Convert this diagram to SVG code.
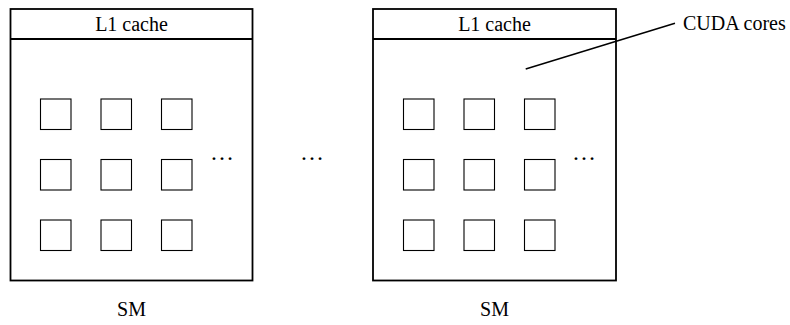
<svg xmlns="http://www.w3.org/2000/svg" width="790" height="325" viewBox="0 0 790 325">
<style>
.box{fill:#fff;stroke:#000;stroke-width:1.8}
.core{fill:#fff;stroke:#000;stroke-width:1.1}
.conn{stroke:#000;stroke-width:1.5;fill:none}
</style>
<g id="sm1">
<rect class="box" x="10.5" y="9" width="242" height="271.5"/>
<line class="box" x1="10.5" y1="39" x2="252.5" y2="39"/>
<text font-family="'Liberation Serif', serif" font-size="20" text-anchor="middle" x="131.5" y="31">L1 cache</text>
<rect class="core" x="40.5" y="99" width="30.5" height="30.5"/>
<rect class="core" x="101" y="99" width="30.5" height="30.5"/>
<rect class="core" x="161.5" y="99" width="30.5" height="30.5"/>
<rect class="core" x="40.5" y="159.5" width="30.5" height="30.5"/>
<rect class="core" x="101" y="159.5" width="30.5" height="30.5"/>
<rect class="core" x="161.5" y="159.5" width="30.5" height="30.5"/>
<rect class="core" x="40.5" y="220" width="30.5" height="30.5"/>
<rect class="core" x="101" y="220" width="30.5" height="30.5"/>
<rect class="core" x="161.5" y="220" width="30.5" height="30.5"/>
<text font-family="'Liberation Serif', serif" font-size="24" text-anchor="middle" x="222" y="160">…</text>
<text font-family="'Liberation Serif', serif" font-size="20" text-anchor="middle" x="131.5" y="316">SM</text>
</g>
<g id="gap">
<text font-family="'Liberation Serif', serif" font-size="24" text-anchor="middle" x="312" y="160">…</text>
</g>
<g id="sm2">
<rect class="box" x="373" y="9" width="243" height="271.5"/>
<line class="box" x1="373" y1="39" x2="616" y2="39"/>
<text font-family="'Liberation Serif', serif" font-size="20" text-anchor="middle" x="494.5" y="31">L1 cache</text>
<rect class="core" x="403.5" y="99" width="30.5" height="30.5"/>
<rect class="core" x="464" y="99" width="30.5" height="30.5"/>
<rect class="core" x="524.5" y="99" width="30.5" height="30.5"/>
<rect class="core" x="403.5" y="159.5" width="30.5" height="30.5"/>
<rect class="core" x="464" y="159.5" width="30.5" height="30.5"/>
<rect class="core" x="524.5" y="159.5" width="30.5" height="30.5"/>
<rect class="core" x="403.5" y="220" width="30.5" height="30.5"/>
<rect class="core" x="464" y="220" width="30.5" height="30.5"/>
<rect class="core" x="524.5" y="220" width="30.5" height="30.5"/>
<text font-family="'Liberation Serif', serif" font-size="24" text-anchor="middle" x="584" y="160">…</text>
<text font-family="'Liberation Serif', serif" font-size="20" text-anchor="middle" x="494.5" y="316">SM</text>
</g>
<g id="label">
<text font-family="'Liberation Serif', serif" font-size="20" x="683" y="30">CUDA cores</text>
</g>
<g id="connectors">
<line class="conn" x1="525.7" y1="69" x2="675" y2="23.3"/>
</g>
</svg>
